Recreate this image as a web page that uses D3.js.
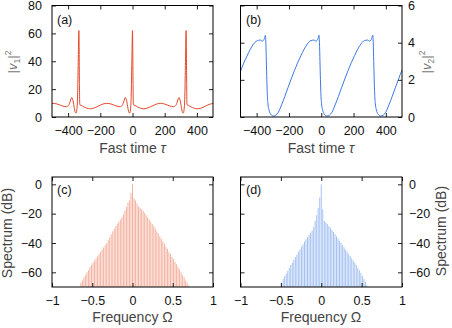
<!DOCTYPE html>
<html><head><meta charset="utf-8">
<script src="https://cdn.jsdelivr.net/npm/d3@7"></script>
<style>body{margin:0;background:#fff}svg{display:block}text{font-family:"Liberation Sans",Arial,sans-serif}</style>
</head><body><svg id="c" width="452" height="328"></svg>
<script>
// ---- data ----
const tauA = [-500,-470,-440,-425,-411,-396,-386,-378,-370,-361,-354,-350,-346,-341,-337,-333,-330,-328,-325,-318,-303,-283,-265,-243,-213,-183,-161,-133,-103,
  -78,-63,-53,-45,-37,-28,-21,-17,-13,-8,-4,0,3,5,8,15,30,50,68,90,120,150,172,200,230,
  255,270,280,288,296,305,312,316,320,325,329,333,336,338,341,348,363,383,401,423,453,483,500];
const v1 = [9.8,9.4,8.1,7.6,7.4,8.5,11.5,14,12,6,3,2.9,5,15,40,62,30,10,8.5,8.3,7.3,6.3,5.9,6.3,7.8,9.3,9.8,9.3,8.0,
  7.4,8.5,11.5,14,12,6,3,2.9,5,15,40,62,30,10,8.5,8.3,7.3,6.3,5.9,6.3,7.8,9.3,9.8,9.3,8.0,
  7.4,8.5,11.5,14,12,6,3,2.9,5,15,40,62,30,10,8.5,8.3,7.3,6.3,5.9,6.3,7.8,9.3,9.7];

const tauB = [-500,-480,-460,-440,-420,-403,-388,-376,-366,-358,-352,-348,-346,-343,-340,-337,-334,-330,-324,-313,-296,-281,-266,-246,-226,-206,-186,-166,-146,-126,-106,-86,-71,-56,-44,-34,-26,-20,-16,
  -14,-11,-8,-5,-2,2,8,19,36,51,66,86,106,126,146,166,186,206,226,246,261,276,288,298,306,312,316,
  319,322,325,328,331,335,341,352,369,384,399,419,439,459,479,499,500];
const v2 = [2.46,2.9,3.28,3.63,3.92,4.07,4.13,4.14,4.08,4.12,4.22,4.35,4.4,4.0,3.0,2.0,1.2,0.7,0.4,0.15,0.05,0.1,0.25,0.65,1.1,1.58,2.05,2.5,2.92,3.3,3.65,3.93,4.08,4.13,4.14,4.08,4.12,4.22,4.35,
  4.4,4.0,3.0,2.0,1.2,0.7,0.4,0.15,0.05,0.1,0.25,0.65,1.1,1.58,2.05,2.5,2.92,3.3,3.65,3.93,4.08,4.13,4.14,4.08,4.12,4.22,4.35,
  4.4,4.0,3.0,2.0,1.2,0.7,0.4,0.15,0.05,0.1,0.25,0.65,1.1,1.58,2.05,2.5,2.52];

const combSpacing = 0.01887;
const firstModeC = -34;
const specC = [-67,-65.5,-63.5,-62,-60,-58.5,-56.5,-55,-53.5,-52,-50.5,-49,-47.5,-46,-44.5,-43,-41.5,-40,-38,-36,-34,-32,-30.5,-28.5,-27,-25.5,-24,-22.5,-20.5,-18,-15.5,-12.5,-11,-6,
  0,-9.5,-11,-13,-15,-16,-17,-18,-19.5,-21,-22.5,-24,-25.5,-27,-28.5,-30,-32,-33.5,-35.5,-37,-39,-40.5,-42.5,-44,-46,-47.5,-49.5,-51,-53,-54.5,-56.5,-58,-60,-62,-63.5,-65.5,-67,-69];
const firstModeD = -26;
const specD = [-67,-64.5,-62.5,-61,-59,-57,-55,-53.5,-51.5,-49.5,-48,-46,-44.5,-42.5,-41,-39,-37.5,-36,-34.5,-33,-31.5,-29,-25,-21,-16,-9,
  0,-17,-25,-26,-27,-28.5,-29.5,-31,-32.5,-34,-35.5,-37,-38.5,-40,-41.5,-43,-44.5,-46,-47.5,-49,-50.5,-52,-53.5,-55,-57,-58.5,-60.5,-62.5,-64.5,-66.5,-69];

const tauTicks = [-400,-200,0,200,400];
const freqTicks = [-1,-0.5,0,0.5,1];
const v1Ticks = [0,20,40,60,80];
const v2Ticks = [0,2,4,6];
const dbTicks = [0,-20,-40,-60];

// ---- layout ----
const svg = d3.select("#c");
const L = [52, 213], R = [240.5, 402], T = [117, 5.5], B = [287, 177];
const fmt = d3.format("");
const tickFont = "12.5px", titleFont = "14px";

function frame(x, y, xt, yt, side, padY){
  const g = svg.append("g");
  const [x0,x1] = x.range(), [y0,y1] = y.range();
  g.append("g").attr("transform",`translate(0,${y0})`)
    .call(d3.axisBottom(x).tickValues(xt).tickSizeInner(-4).tickSizeOuter(0).tickPadding(9.5).tickFormat(fmt));
  g.append("g").attr("transform",`translate(0,${y1})`)
    .call(d3.axisTop(x).tickValues(xt).tickSizeInner(-4).tickSizeOuter(0).tickFormat(""));
  g.append("g").attr("transform",`translate(${x0},0)`)
    .call(d3.axisLeft(y).tickValues(yt).tickSizeInner(-4).tickSizeOuter(0).tickPadding(side==="left"?padY:0).tickFormat(side==="left"?fmt:""));
  g.append("g").attr("transform",`translate(${x1},0)`)
    .call(d3.axisRight(y).tickValues(yt).tickSizeInner(-4).tickSizeOuter(0).tickPadding(side==="right"?padY:0).tickFormat(side==="right"?fmt:""));
  g.selectAll(".domain").remove();
  g.selectAll("text").attr("font-size",tickFont).attr("fill","#111").attr("font-family",'"Liberation Sans",Arial,sans-serif');
  g.selectAll(".tick line").attr("stroke","#222");
  return g;
}
function box(x,y){
  const [x0,x1] = x.range(), [y0,y1] = y.range();
  svg.append("rect").attr("x",x0).attr("y",y1).attr("width",x1-x0).attr("height",y0-y1)
    .attr("fill","none").attr("stroke","#000").attr("stroke-width",1);
}

const xA = d3.scaleLinear([-500,500], L), yA = d3.scaleLinear([0,80], T);
const xB = d3.scaleLinear([-500,500], R), yB = d3.scaleLinear([0,6], T);
const xC = d3.scaleLinear([-1,1], L), yC = d3.scaleLinear([-70,5], B);
const xD = d3.scaleLinear([-1,1], R), yD = d3.scaleLinear([-70,5], B);

// spectra bars
function bars(x, y, first, vals, color){
  svg.append("g").selectAll("line").data(vals).join("line")
    .attr("x1",(d,i)=>x((first+i)*combSpacing)).attr("x2",(d,i)=>x((first+i)*combSpacing))
    .attr("y1",y(-70)).attr("y2",d=>y(d))
    .attr("stroke",color).attr("stroke-width",1);
}
bars(xC, yC, firstModeC, specC, "#f4b3a2");
bars(xD, yD, firstModeD, specD, "#a6c2f2");

// lines
svg.append("path").datum(d3.zip(tauA,v1)).attr("fill","none").attr("stroke","#e5482a").attr("stroke-width",1)
  .attr("d", d3.line().x(d=>xA(d[0])).y(d=>yA(d[1])).curve(d3.curveMonotoneX));
svg.append("path").datum(d3.zip(tauB,v2)).attr("fill","none").attr("stroke","#3c78e6").attr("stroke-width",1)
  .attr("d", d3.line().x(d=>xB(d[0])).y(d=>yB(d[1])).curve(d3.curveMonotoneX));

frame(xA,yA,tauTicks,v1Ticks,"left",10); box(xA,yA);
frame(xB,yB,tauTicks,v2Ticks,"right",6); box(xB,yB);
frame(xC,yC,freqTicks,dbTicks,"left",10); box(xC,yC);
frame(xD,yD,freqTicks,dbTicks,"right",7); box(xD,yD);

// panel labels
[["(a)",57,23.5],["(b)",246,23.5],["(c)",57,194],["(d)",246,194]].forEach(([t,x,y])=>
  svg.append("text").attr("x",x).attr("y",y).attr("font-size","12.5px").attr("fill","#111").text(t));

// x titles
function xTitle(cx, y, main, sym){
  const t = svg.append("text").attr("x",cx).attr("y",y).attr("text-anchor","middle").attr("font-size",titleFont).attr("fill","#444");
  t.append("tspan").text(main);
  t.append("tspan").attr("font-style", sym==="τ"?"italic":"normal").text(sym);
}
xTitle(132.5,152.5,"Fast time ","τ");
xTitle(321,152.5,"Fast time ","τ");
xTitle(132.5,321.5,"Frequency ","Ω");
xTitle(321,321.5,"Frequency ","Ω");

// y titles
function vTitle(cx, cy, sub){
  const t = svg.append("text").attr("transform",`translate(${cx},${cy}) rotate(-90)`).attr("text-anchor","middle")
    .attr("font-size","13px").attr("fill","#777");
  t.append("tspan").text("|");
  t.append("tspan").attr("font-style","italic").text("v");
  t.append("tspan").attr("font-size","8.5px").attr("dy",3).text(sub);
  t.append("tspan").attr("dy",-3).text("|");
  t.append("tspan").attr("font-size","8.5px").attr("dy",-6).text("2");
}
vTitle(17, 62, "1");
vTitle(431, 62, "2");
function sTitle(cx, cy){
  svg.append("text").attr("transform",`translate(${cx},${cy}) rotate(-90)`).attr("text-anchor","middle")
    .attr("font-size",titleFont).attr("fill","#444").text("Spectrum (dB)");
}
sTitle(12, 233);
sTitle(446, 231);
</script></body></html>
